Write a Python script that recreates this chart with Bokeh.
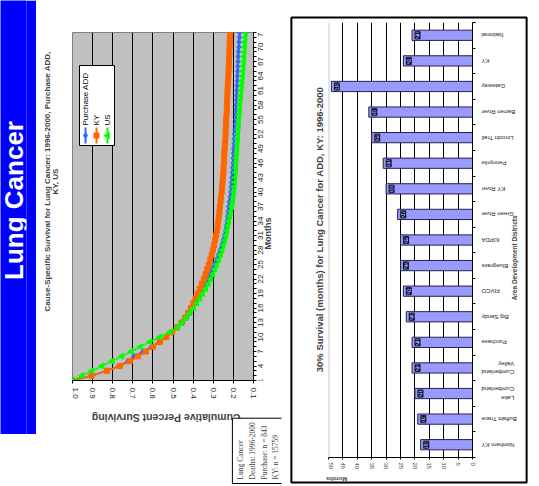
import math
from bokeh.plotting import figure
from bokeh.models import (Range1d, FixedTicker, Label, LabelSet, ColumnDataSource,
                          Span, NumeralTickFormatter)
from bokeh.layouts import column
from bokeh.core.properties import value
from bokeh.embed import file_html
from bokeh.resources import INLINE

# ---------------- data ----------------
months = list(range(1, 74))
purchase_add = [1.000, 0.905, 0.830, 0.770, 0.725, 0.695, 0.650, 0.607, 0.570, 0.535,
                0.502, 0.476, 0.452, 0.432, 0.415, 0.400, 0.388, 0.376, 0.364, 0.353,
                0.342, 0.330, 0.318, 0.306, 0.295, 0.284, 0.274, 0.266, 0.258, 0.251,
                0.245, 0.240, 0.236, 0.232, 0.229, 0.226, 0.223, 0.220, 0.216, 0.213,
                0.211, 0.209, 0.207, 0.205, 0.204, 0.202, 0.201, 0.200, 0.199, 0.197,
                0.196, 0.195, 0.193, 0.191, 0.189, 0.188, 0.187, 0.186, 0.185, 0.184,
                0.183, 0.182, 0.181, 0.180, 0.179, 0.178, 0.177, 0.176, 0.175, 0.173,
                0.172, 0.170, 0.169]
ky = [1.000, 0.905, 0.828, 0.765, 0.715, 0.675, 0.635, 0.600, 0.565, 0.533,
      0.505, 0.480, 0.458, 0.440, 0.425, 0.411, 0.399, 0.388, 0.377, 0.367,
      0.357, 0.347, 0.338, 0.330, 0.322, 0.315, 0.308, 0.302, 0.296, 0.291,
      0.286, 0.282, 0.278, 0.275, 0.272, 0.269, 0.267, 0.264, 0.261, 0.258,
      0.256, 0.254, 0.252, 0.250, 0.249, 0.247, 0.246, 0.245, 0.243, 0.242,
      0.240, 0.239, 0.238, 0.237, 0.236, 0.234, 0.233, 0.232, 0.231, 0.230,
      0.229, 0.228, 0.226, 0.225, 0.224, 0.223, 0.222, 0.221, 0.220, 0.219,
      0.218, 0.217, 0.216]
us = [1.000, 0.952, 0.903, 0.853, 0.803, 0.755, 0.708, 0.662, 0.615, 0.565,
      0.515, 0.478, 0.455, 0.435, 0.418, 0.398, 0.381, 0.366, 0.352, 0.338,
      0.325, 0.313, 0.302, 0.292, 0.282, 0.273, 0.264, 0.256, 0.250, 0.243,
      0.237, 0.233, 0.228, 0.223, 0.218, 0.213, 0.208, 0.204, 0.201, 0.198,
      0.196, 0.194, 0.192, 0.190, 0.189, 0.187, 0.186, 0.184, 0.182, 0.181,
      0.179, 0.178, 0.176, 0.175, 0.173, 0.171, 0.169, 0.168, 0.166, 0.164,
      0.162, 0.159, 0.157, 0.155, 0.153, 0.151, 0.149, 0.148, 0.146, 0.145,
      0.143, 0.141, 0.140]
month_ticks = months[::3]
month_tick_labels = [str(m) for m in month_ticks]
value_ticks = [0.1, 0.2, 0.3, 0.4, 0.5, 0.6, 0.7, 0.8, 0.9, 1.0]
series_names = ["Purchase ADD", "KY", "US"]
series_colors = ["#3366FF", "#FF6600", "#00FF00"]
series_markers = ["diamond", "square", "triangle"]

districts = ["Northern KY", "Buffalo Trace", "Lake Cumberland", "Cumberland Valley",
             "Purchase", "Big Sandy", "FIVCO", "Bluegrass", "KIPDA", "Green River",
             "KY River", "Pennyrile", "Lincoln Trail", "Barren River", "Gateway",
             "KY", "National"]
district_tick_labels = ["Northern KY", "Buffalo Trace", "Lake\nCumberland", "Cumberland\nValley",
                        "Purchase", "Big Sandy", "FIVCO", "Bluegrass", "KIPDA", "Green River",
                        "KY River", "Pennyrile", "Lincoln Trail", "Barren River", "Gateway",
                        "KY", "National"]
survival30 = [18, 19, 20, 21, 21, 23, 24, 25, 25, 26, 30, 31, 35, 36, 49, 24, 21]
month_axis_ticks = [0, 5, 10, 15, 20, 25, 30, 35, 40, 45, 50]

SANS = "Liberation Sans"
SERIF = "Liberation Serif"
UP = math.pi / 2
FLIP = math.pi


def place(fig, left, top):
    fig.styles = {"position": "absolute", "left": f"{left}px", "top": f"{top}px"}
    return fig


def blank(width, height, x_range, y_range, **kw):
    f = figure(width=width, height=height, x_range=x_range, y_range=y_range,
               output_backend="svg", toolbar_location=None,
               x_axis_location=None, y_axis_location=None, min_border=0,
               background_fill_alpha=0, border_fill_alpha=0, outline_line_color=None, **kw)
    f.grid.visible = False
    return f


# ---------------- banner ----------------
banner = figure(width=36, height=434, x_range=Range1d(0, 36), y_range=Range1d(0, 434),
                output_backend="svg", toolbar_location=None,
                x_axis_location=None, y_axis_location=None, min_border=0,
                background_fill_color="#0000FF", border_fill_color="#0000FF",
                outline_line_color=None)
banner.grid.visible = False
banner.add_layout(Label(x=18, y=234, text="Lung Cancer", angle=UP, text_align="center",
                        text_baseline="middle", text_color="white", text_font=SANS,
                        text_font_size="26px", text_font_style="bold"))
place(banner, 0, 0)

# ---------------- survival chart (value across, months up) ----------------
p1 = figure(width=191, height=410, x_range=Range1d(1.0, 0.1), y_range=Range1d(1, 73),
            y_axis_location="right", output_backend="svg", toolbar_location=None,
            min_border_left=0, min_border_right=10, min_border_top=32, min_border_bottom=30,
            background_fill_color="#C0C0C0", border_fill_alpha=0,
            outline_line_color="#808080")
p1.ygrid.visible = False
p1.xgrid.ticker = FixedTicker(ticks=value_ticks)
p1.xgrid.grid_line_color = "black"
p1.xgrid.grid_line_width = 1

xa = p1.xaxis[0]
xa.ticker = FixedTicker(ticks=value_ticks)
xa.formatter = NumeralTickFormatter(format="0.0")
xa.major_label_orientation = "vertical"
xa.major_tick_in = 0
xa.major_tick_out = 3
xa.minor_tick_line_color = None
xa.major_label_text_font = SANS
xa.major_label_text_font_size = "8px"
xa.major_label_text_color = "#222222"
xa.major_label_standoff = 4
xa.axis_line_color = "black"

ya = p1.yaxis[0]
ya.ticker = FixedTicker(ticks=[], minor_ticks=months)
ya.major_tick_line_color = None
ya.major_label_standoff = 0
ya.minor_tick_in = 0
ya.minor_tick_out = 3
ya.minor_tick_line_color = "black"
ya.axis_line_color = "black"

src1 = ColumnDataSource(dict(month=months, purchase=purchase_add, ky=ky, us=us))
for col, color, marker, lw, size in zip(["purchase", "ky", "us"], series_colors,
                                        series_markers, [1.5, 2, 1.5], [6, 5, 6]):
    p1.line(col, "month", source=src1, line_color=color, line_width=lw)
    p1.scatter(col, "month", source=src1, marker=marker, size=size,
               angle=UP if marker == "triangle" else 0,
               fill_color=color, line_color=color)

# legend (drawn rotated, like the rest of the page)
F_L, F_R, F_T, F_B = 72, 253, 32, 380          # frame pixels on the page
def vx(px):
    return 1.0 - (px - F_L) * 0.9 / (F_R - F_L)
def my(py):
    return 1 + (F_B - py) * 72 / (F_B - F_T)

p1.quad(left=[vx(79)], right=[vx(114)], top=[my(65)], bottom=[my(145)],
        fill_color="white", line_color="black", line_width=1)
lx = [vx(85), vx(96), vx(107)]
p1.segment(x0=lx, y0=[my(143)] * 3, x1=lx, y1=[my(127)] * 3,
           line_color=series_colors, line_width=2)
p1.scatter(x=lx, y=[my(135)] * 3, marker=series_markers, size=[6, 5, 6],
           angle=[0, 0, UP], fill_color=series_colors, line_color=series_colors)
src_lg = ColumnDataSource(dict(x=lx, y=[my(125)] * 3, t=series_names))
p1.add_layout(LabelSet(x="x", y="y", text="t", source=src_lg, angle=UP,
                       text_align="left", text_baseline="middle", text_font=value(SANS),
                       text_font_size="8px", text_color="black"))
place(p1, 72, 0)

# month tick labels, sharing the month scale of the survival chart
m_lab = figure(width=38, height=410, x_range=Range1d(0, 38), y_range=p1.y_range,
               output_backend="svg", toolbar_location=None,
               x_axis_location=None, y_axis_location=None,
               min_border_left=0, min_border_right=0, min_border_top=32, min_border_bottom=30,
               background_fill_alpha=0, border_fill_alpha=0, outline_line_color=None)
m_lab.grid.visible = False
src_mt = ColumnDataSource(dict(x=[9] * len(month_ticks), y=month_ticks, t=month_tick_labels))
m_lab.add_layout(LabelSet(x="x", y="y", text="t", source=src_mt, angle=UP,
                          text_align="center", text_baseline="middle", text_font=value(SANS),
                          text_font_size="8px", text_color="#222222"))
m_lab.add_layout(Label(x=20, y=31.4, angle=UP, text="Months",
                       text_align="center", text_baseline="middle", text_font=SANS,
                       text_font_size="9px", text_font_style="bold"))
place(m_lab, 253, 0)

# titles of the left half (page pixel frame)
ta = blank(255, 486, Range1d(36, 291), Range1d(486, 0))
ta.add_layout(Label(x=47, y=181, angle=UP,
                    text="Cause-Specific Survival for Lung Cancer: 1996-2000, Purchase ADD,",
                    text_align="center", text_baseline="middle", text_font=SANS,
                    text_font_size="8px", text_font_style="bold"))
ta.add_layout(Label(x=56, y=181, angle=UP, text="KY, US",
                    text_align="center", text_baseline="middle", text_font=SANS,
                    text_font_size="8px", text_font_style="bold"))
ta.add_layout(Label(x=171, y=417, angle=FLIP, text="Cumulative Percent Surviving",
                    text_align="center", text_baseline="middle", text_font=SANS,
                    text_font_size="10.5px", text_font_style="bold"))
ta.add_layout(Label(x=267, y=483, angle=UP,
                    text="Lung Cancer\nDeaths: 1996-2000\nPurchase: n = 843\nKY: n = 15759",
                    text_align="left", text_baseline="middle", text_font=SERIF,
                    text_font_size="7.5px", text_line_height=1.3,
                    border_line_color="black", border_line_width=1,
                    background_fill_color="white", padding=4))
place(ta, 36, 0)

# ---------------- bar chart (months across, districts up) ----------------
ypos = [i + 0.5 for i in range(len(districts))]
src2 = ColumnDataSource(dict(y=ypos, district=districts, months=survival30,
                             lbl=[str(v) for v in survival30],
                             cat=district_tick_labels))
p2 = figure(width=154, height=480, x_range=Range1d(50, 0), y_range=Range1d(0, len(districts)),
            y_axis_location="right", output_backend="svg", toolbar_location=None,
            min_border_left=0, min_border_right=6, min_border_top=22, min_border_bottom=23,
            background_fill_color="white", border_fill_alpha=0,
            outline_line_color=None)
p2.ygrid.visible = False
p2.xgrid.ticker = FixedTicker(ticks=[5, 10, 15, 20, 25, 30, 35, 40, 45])
p2.xgrid.grid_line_color = "black"
p2.xgrid.grid_line_width = 1
p2.add_layout(Span(location=50, dimension="height", line_color="#C8C8C8", line_width=2))

p2.hbar(y="y", left=0, right="months", height=0.4, source=src2,
        fill_color="#9999FF", line_color="#222255", line_width=1)
p2.add_layout(LabelSet(x="months", y="y", text="lbl", source=src2, x_offset=3, angle=UP,
                       text_align="center", text_baseline="top", text_font=value(SANS),
                       text_font_size="6.5px", text_font_style="bold", text_color="black",
                       border_line_color="black", border_line_width=0.8,
                       background_fill_color="#9999FF"))

bx = p2.xaxis[0]
bx.ticker = FixedTicker(ticks=month_axis_ticks)
bx.major_label_orientation = "vertical"
bx.major_tick_in = 0
bx.major_tick_out = 2
bx.minor_tick_line_color = None
bx.major_label_text_font = SANS
bx.major_label_text_font_size = "6px"
bx.major_label_standoff = 3
bx.axis_line_color = "black"

by = p2.yaxis[0]
by.ticker = FixedTicker(ticks=[], minor_ticks=list(range(len(districts) + 1)))
by.major_tick_line_color = None
by.major_label_standoff = 0
by.minor_tick_in = 0
by.minor_tick_out = 3
by.minor_tick_line_color = "black"
by.axis_line_color = "black"
place(p2, 328, 0)

# category labels sharing the district scale of the bar chart
c_lab = figure(width=60, height=480, x_range=Range1d(0, 60), y_range=p2.y_range,
               output_backend="svg", toolbar_location=None,
               x_axis_location=None, y_axis_location=None,
               min_border_left=0, min_border_right=0, min_border_top=22, min_border_bottom=23,
               background_fill_alpha=0, border_fill_alpha=0, outline_line_color=None)
c_lab.grid.visible = False
src_c = ColumnDataSource(dict(x=[6] * len(districts), y=ypos, t=district_tick_labels))
c_lab.add_layout(LabelSet(x="x", y="y", text="t", source=src_c, angle=FLIP,
                          text_align="right", text_baseline="middle", text_font=value(SANS),
                          text_font_size="6px", text_line_height=1.4, text_color="#222222"))
c_lab.add_layout(Label(x=45, y=7.8, angle=UP, text="Area Development Districts",
                       text_align="center", text_baseline="middle", text_font=SANS,
                       text_font_size="6.5px", text_font_style="bold"))
place(c_lab, 476, 0)

# frame and titles of the right half (page pixel frame)
tb = blank(251, 486, Range1d(288, 539), Range1d(486, 0))
tb.quad(left=[291], right=[536], top=[17], bottom=[482], fill_color=None,
        line_color="black", line_width=2)
tb.add_layout(Label(x=320, y=229, angle=UP,
                    text="30% Survival (months) for Lung Cancer for ADD, KY: 1996-2000",
                    text_align="center", text_baseline="middle", text_font=SANS,
                    text_font_size="9.5px", text_font_style="bold"))
tb.add_layout(Label(x=338, y=478, angle=FLIP, text="Months",
                    text_align="center", text_baseline="middle",
                    text_font=SANS, text_font_size="6px", text_font_style="bold"))
place(tb, 288, 0)

page = column(banner, p1, m_lab, ta, p2, c_lab, tb)
page.styles = {"position": "absolute", "left": "0px", "top": "0px",
               "width": "539px", "height": "486px"}

open("out.html", "w").write(file_html(page, INLINE))
